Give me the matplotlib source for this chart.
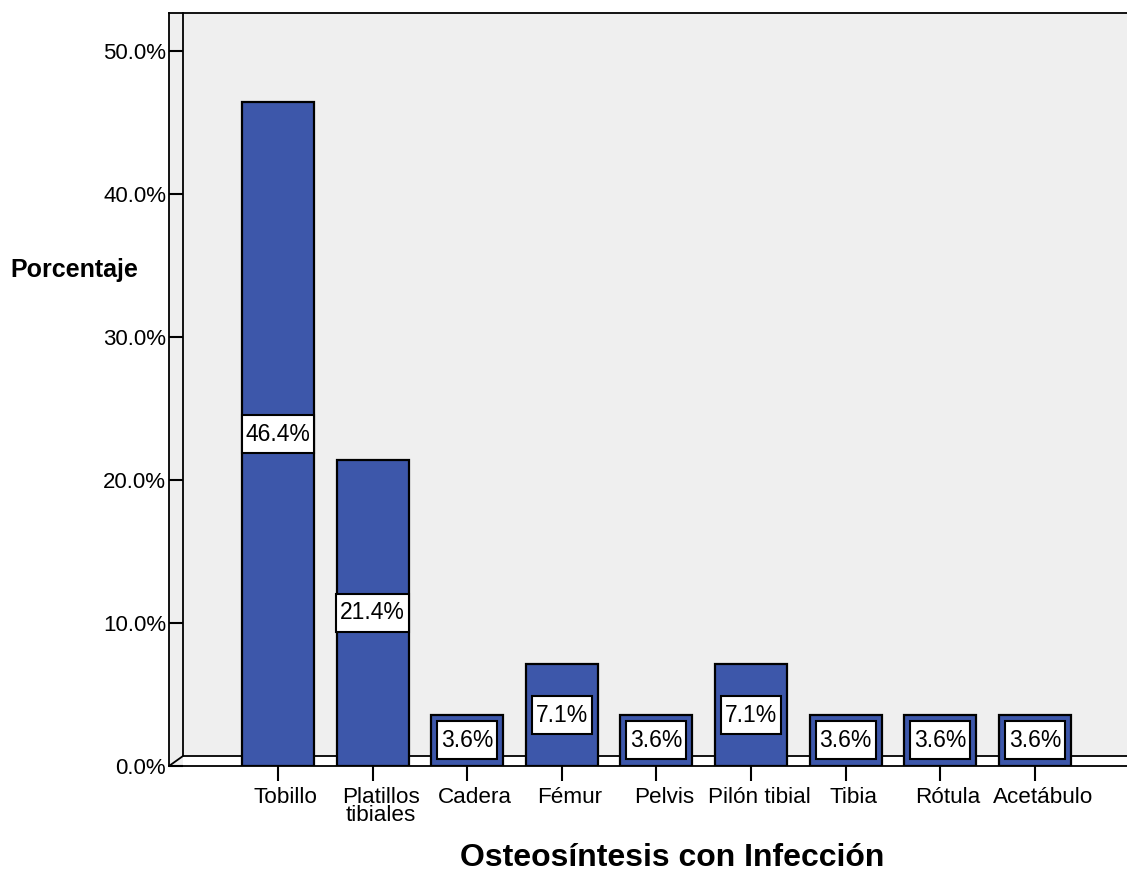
import matplotlib
matplotlib.use("Agg")
import matplotlib.pyplot as plt
from matplotlib.patches import Rectangle
from matplotlib.transforms import ScaledTranslation

plt.rcParams["font.family"] = ["Liberation Sans", "DejaVu Sans"]

# -----------------------------
# Data
# -----------------------------
categories = ["Tobillo", "Platillos\ntibiales", "Cadera", "Fémur", "Pelvis",
              "Pilón tibial", "Tibia", "Rótula", "Acetábulo"]
percentages = [46.4, 21.4, 3.6, 7.1, 3.6, 7.1, 3.6, 3.6, 3.6]
y_ticks = [0, 10, 20, 30, 40, 50]

bar_color = "#3d57aa"
wall_color = "#efefef"

W, H = 1127, 871
fig = plt.figure(figsize=(W / 100, H / 100), dpi=100)

# axes box in pixels (left, right, top, bottom)
ax_l, ax_r, ax_t, ax_b = 169, 1127, 13, 766
ax = fig.add_axes([ax_l / W, 1 - ax_b / H, (ax_r - ax_l) / W, (ax_b - ax_t) / H])

px_per_unit = 14.3
ax.set_ylim(0, (ax_b - ax_t) / px_per_unit)
step = 94.6
x_first = 278
ax.set_xlim((ax_l - x_first) / step, (ax_r - x_first) / step)

# pseudo-3D frame: side wall, back wall, floor
side = 14 / (ax_r - ax_l)
floor = 10 / (ax_b - ax_t)
ax.set_facecolor("white")
ax.add_patch(Rectangle((0, 0), side, 1, transform=ax.transAxes,
                       facecolor=wall_color, edgecolor="none", zorder=0))
ax.add_patch(Rectangle((side, floor), 1 - side, 1 - floor, transform=ax.transAxes,
                       facecolor=wall_color, edgecolor="none", zorder=0))
ax.plot([side, side, 1], [1, floor, floor], transform=ax.transAxes,
        color="black", lw=1.3, zorder=1, clip_on=False)
ax.plot([0, side], [0, floor], transform=ax.transAxes,
        color="black", lw=1.3, zorder=1)

x = list(range(len(categories)))
ax.bar(x, percentages, width=0.76, color=bar_color, edgecolor="black",
       linewidth=1.6, zorder=3)

# value labels in white boxes, taller than wide padding
for xi, v in zip(x, percentages):
    ax.text(xi, v / 2, f"{v:.1f}%", ha="center", va="center", fontsize=16.5,
            zorder=4,
            bbox=dict(boxstyle="square,pad=0.17", facecolor="white",
                      edgecolor="black", linewidth=1.5, mutation_aspect=1.9))

ax.set_yticks(y_ticks)
ax.set_yticklabels([f"{t:.1f}%" for t in y_ticks], fontsize=16)
ax.tick_params(axis="y", direction="in", length=10, width=1.5, pad=2)
ax.set_xticks(x)
ax.set_xticklabels(categories, fontsize=16.2, linespacing=0.82)
ax.tick_params(axis="x", direction="out", length=11, width=1.5, pad=4)

# category labels sit a little right of their ticks
shift = ScaledTranslation(8 / 100, 0, fig.dpi_scale_trans)
for lbl in ax.get_xticklabels():
    lbl.set_transform(lbl.get_transform() + shift)

for s in ["left", "top", "bottom"]:
    ax.spines[s].set_linewidth(1.3)
ax.spines["right"].set_visible(False)

fig.text(10 / W, 1 - 270 / H, "Porcentaje", fontsize=18, fontweight="bold",
         ha="left", va="center")
fig.text(672 / W, 1 - 858 / H, "Osteosíntesis con Infección", fontsize=23,
         fontweight="bold", ha="center", va="center")

fig.savefig("out.png", dpi=100)
